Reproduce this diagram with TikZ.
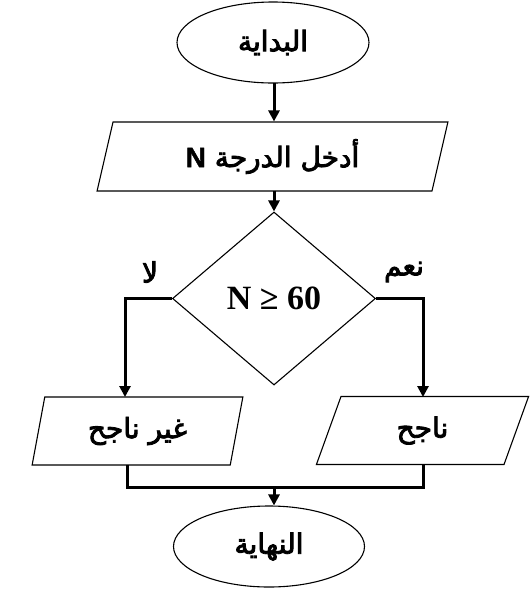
\documentclass[tikz,border=0pt]{standalone}
\usepackage{fontspec}
\usetikzlibrary{shapes.geometric,arrows.meta}
\TeXXeTstate=1
\newfontfamily\arabicfont[Script=Arabic,FakeBold=3]{DejaVu Sans}
\newfontfamily\arialfont[FakeBold=1.5]{Liberation Sans Bold}
\newfontfamily\timesfont{Liberation Serif}
\begin{document}
\begin{tikzpicture}[x=1pt,y=-1pt,
  shapeline/.style={draw=black,line width=1.1pt,fill=white,inner sep=0pt},
  term/.style={shapeline,ellipse,minimum width=#1,minimum height=81pt},
  para/.style={shapeline,trapezium,trapezium stretches=true,trapezium left angle=#1,trapezium right angle=180-#1},
  conn/.style={line width=3pt},
  arr/.style={conn,-{Triangle[width=11pt,length=11pt]}},
  ar/.style={font=\arabicfont\fontsize{28}{32}\selectfont}
]
\useasboundingbox (0,0) rectangle (530,600);
\node[term=192pt,ar] (start) at (273,42.5) {\beginR البداية\endR};
\node[para=76,ar,minimum width=351pt,minimum height=69pt] (input) at (272.5,156.5) {\beginR أدخل الدرجة \raisebox{0pt}{\arialfont\fontsize{28}{30}\selectfont N}\endR};
\node[shapeline,diamond,minimum width=203pt,minimum height=173pt] (dec) at (274,298.5) {};
\node[font=\timesfont\bfseries\fontsize{34}{38}\selectfont] (cond) at (dec.center) {N ≥ 60};
\node[para=76.5,ar,minimum width=211pt,minimum height=68pt] (fail) at (137.5,431) {\beginR غير ناجح\endR};
\node[para=74.5,ar,minimum width=213pt,minimum height=68pt] (pass) at (422.5,430.5) {\beginR ناجح\endR};
\node[term=191pt,ar] (end) at (269,546.5) {\beginR النهاية\endR};
\node[ar] (no) at (150,272) {\beginR لا\endR};
\node[ar] (yes) at (404,272) {\beginR نعم\endR};
\coordinate (a1) at (274,83);
\coordinate (a2) at (274,190.5);
\coordinate (fl) at (125,397);
\coordinate (pr) at (423,397);
\coordinate (fb) at (127,465);
\coordinate (pb) at (423,464.5);
\coordinate (mj) at (274,487);
\draw[arr] (a1) -- (a1 |- input.north);
\draw[arr] (a2) -- (dec.north);
\draw[arr] (dec.west) -| (fl);
\draw[arr] (dec.east) -| (pr);
\draw[conn] (fb) |- (mj) -| (pb);
\draw[arr] (mj) -- (mj |- end.north);
\end{tikzpicture}
\end{document}
